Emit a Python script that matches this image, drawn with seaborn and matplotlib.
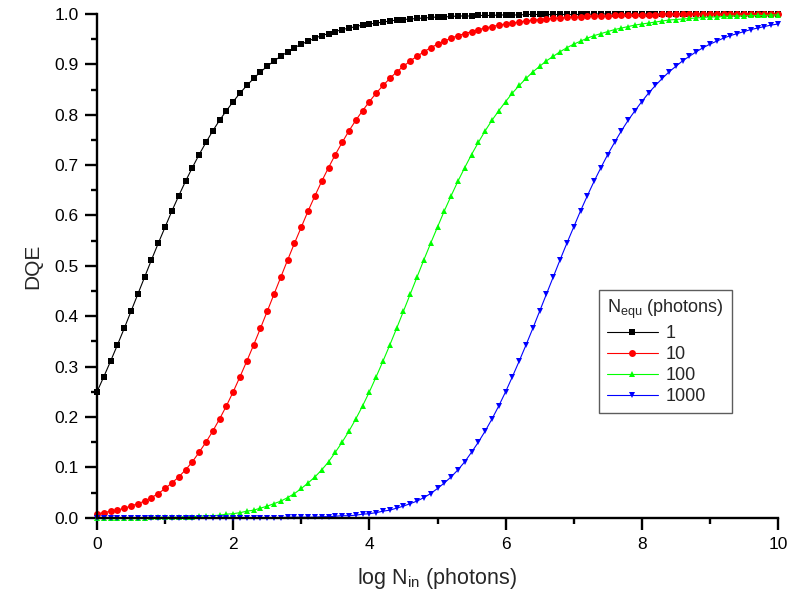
import matplotlib
matplotlib.use("Agg")
import matplotlib.pyplot as plt
import seaborn as sns
import numpy as np
import pandas as pd
from matplotlib.ticker import MultipleLocator, FormatStrFormatter

# x positions: log N_in from 0 to 10, step 0.1
log_n_in = [round(0.1 * i, 1) for i in range(101)]

dqe_1 = [
    0.250, 0.280, 0.311, 0.343, 0.376, 0.410, 0.444, 0.478, 0.512, 0.545,
    0.577, 0.609, 0.639, 0.668, 0.695, 0.721, 0.745, 0.768, 0.789, 0.808,
    0.826, 0.843, 0.858, 0.872, 0.885, 0.896, 0.907, 0.916, 0.925, 0.933,
    0.940, 0.946, 0.952, 0.957, 0.961, 0.965, 0.969, 0.972, 0.975, 0.978,
    0.980, 0.982, 0.984, 0.986, 0.988, 0.989, 0.990, 0.991, 0.992, 0.993,
    0.994, 0.994, 0.995, 0.996, 0.996, 0.996, 0.997, 0.997, 0.997, 0.998,
    0.998, 0.998, 0.998, 0.999, 0.999, 0.999, 0.999, 0.999, 0.999, 0.999,
    0.999, 0.999, 0.999, 1.000, 1.000, 1.000, 1.000, 1.000, 1.000, 1.000,
    1.000, 1.000, 1.000, 1.000, 1.000, 1.000, 1.000, 1.000, 1.000, 1.000,
    1.000, 1.000, 1.000, 1.000, 1.000, 1.000, 1.000, 1.000, 1.000, 1.000,
    1.000,
]

dqe_10 = [
    0.008, 0.010, 0.013, 0.015, 0.019, 0.023, 0.028, 0.033, 0.040, 0.048,
    0.058, 0.069, 0.081, 0.095, 0.111, 0.130, 0.150, 0.172, 0.196, 0.222,
    0.250, 0.280, 0.311, 0.343, 0.376, 0.410, 0.444, 0.478, 0.512, 0.545,
    0.577, 0.609, 0.639, 0.668, 0.695, 0.721, 0.745, 0.768, 0.789, 0.808,
    0.826, 0.843, 0.858, 0.872, 0.885, 0.896, 0.907, 0.916, 0.925, 0.933,
    0.940, 0.946, 0.952, 0.957, 0.961, 0.965, 0.969, 0.972, 0.975, 0.978,
    0.980, 0.982, 0.984, 0.986, 0.988, 0.989, 0.990, 0.991, 0.992, 0.993,
    0.994, 0.994, 0.995, 0.996, 0.996, 0.996, 0.997, 0.997, 0.997, 0.998,
    0.998, 0.998, 0.998, 0.999, 0.999, 0.999, 0.999, 0.999, 0.999, 0.999,
    0.999, 0.999, 0.999, 1.000, 1.000, 1.000, 1.000, 1.000, 1.000, 1.000,
    1.000,
]

dqe_100 = [
    0.000, 0.000, 0.000, 0.000, 0.000, 0.000, 0.000, 0.000, 0.001, 0.001,
    0.001, 0.001, 0.001, 0.002, 0.002, 0.003, 0.004, 0.004, 0.005, 0.007,
    0.008, 0.010, 0.013, 0.015, 0.019, 0.023, 0.028, 0.033, 0.040, 0.048,
    0.058, 0.069, 0.081, 0.095, 0.111, 0.130, 0.150, 0.172, 0.196, 0.222,
    0.250, 0.280, 0.311, 0.343, 0.376, 0.410, 0.444, 0.478, 0.512, 0.545,
    0.577, 0.609, 0.639, 0.668, 0.695, 0.721, 0.745, 0.768, 0.789, 0.808,
    0.826, 0.843, 0.858, 0.872, 0.885, 0.896, 0.907, 0.916, 0.925, 0.933,
    0.940, 0.946, 0.952, 0.957, 0.961, 0.965, 0.969, 0.972, 0.975, 0.978,
    0.980, 0.982, 0.984, 0.986, 0.988, 0.989, 0.990, 0.991, 0.992, 0.993,
    0.994, 0.994, 0.995, 0.996, 0.996, 0.996, 0.997, 0.997, 0.997, 0.998,
    0.998,
]

dqe_1000 = [
    0.000, 0.000, 0.000, 0.000, 0.000, 0.000, 0.000, 0.000, 0.000, 0.000,
    0.000, 0.000, 0.000, 0.000, 0.000, 0.000, 0.000, 0.000, 0.000, 0.000,
    0.000, 0.000, 0.000, 0.000, 0.000, 0.000, 0.000, 0.000, 0.001, 0.001,
    0.001, 0.001, 0.001, 0.002, 0.002, 0.003, 0.004, 0.004, 0.005, 0.007,
    0.008, 0.010, 0.013, 0.015, 0.019, 0.023, 0.028, 0.033, 0.040, 0.048,
    0.058, 0.069, 0.081, 0.095, 0.111, 0.130, 0.150, 0.172, 0.196, 0.222,
    0.250, 0.280, 0.311, 0.343, 0.376, 0.410, 0.444, 0.478, 0.512, 0.545,
    0.577, 0.609, 0.639, 0.668, 0.695, 0.721, 0.745, 0.768, 0.789, 0.808,
    0.826, 0.843, 0.858, 0.872, 0.885, 0.896, 0.907, 0.916, 0.925, 0.933,
    0.940, 0.946, 0.952, 0.957, 0.961, 0.965, 0.969, 0.972, 0.975, 0.978,
    0.980,
]

series_labels = ["1", "10", "100", "1000"]
series_values = [dqe_1, dqe_10, dqe_100, dqe_1000]
x_ticks = [0, 2, 4, 6, 8, 10]
y_ticks = [0.0, 0.1, 0.2, 0.3, 0.4, 0.5, 0.6, 0.7, 0.8, 0.9, 1.0]

colors = ["#000000", "#FF0000", "#00FF00", "#0000FF"]
markers = ["s", "o", "^", "v"]
msizes = [4.5, 5.0, 4.0, 5.0]

sns.set_style("ticks")
plt.rcParams["font.family"] = ["Liberation Sans", "DejaVu Sans"]
plt.rcParams["mathtext.fontset"] = "custom"
plt.rcParams["mathtext.rm"] = "Liberation Sans"
plt.rcParams["mathtext.it"] = "Liberation Sans"

fig = plt.figure(figsize=(7.9, 6.07), dpi=100)
ax = fig.add_axes([0.1228, 0.1471, 0.862, 0.8299])

for lab, vals, c, m, ms in zip(series_labels, series_values, colors, markers, msizes):
    df = pd.DataFrame({"x": log_n_in, "y": vals})
    sns.lineplot(data=df, x="x", y="y", ax=ax, color=c, marker=m,
                 markersize=ms, markeredgewidth=0, linewidth=0.8,
                 label=lab, clip_on=False)

ax.set_xlim(0, 10)
ax.set_ylim(0, 1.0)
ax.set_xticks(x_ticks)
ax.set_yticks(y_ticks)
ax.xaxis.set_minor_locator(MultipleLocator(1))
ax.yaxis.set_minor_locator(MultipleLocator(0.05))
ax.yaxis.set_major_formatter(FormatStrFormatter("%.1f"))
ax.tick_params(axis="both", which="major", length=8.5, width=1.7,
               labelsize=12.5, color="black", labelcolor="black", direction="out")
ax.tick_params(axis="x", which="major", pad=5.5)
ax.tick_params(axis="y", which="major", pad=4.5)
ax.tick_params(axis="both", which="minor", length=4.5, width=1.7, color="black",
               direction="out")
sns.despine(ax=ax)
for s in ["left", "bottom"]:
    ax.spines[s].set_linewidth(1.7)
    ax.spines[s].set_color("black")

ax.set_xlabel(r"log N$_{\mathregular{in}}$ (photons)", fontsize=15.5, labelpad=10)
ax.set_ylabel("DQE", fontsize=15, labelpad=9)

leg = ax.legend(title=r"N$_{\mathregular{equ}}$ (photons)", loc="upper left",
                bbox_to_anchor=(0.737, 0.452), borderaxespad=0,
                fontsize=13, title_fontsize=13, handlelength=2.8,
                labelspacing=0.22, handletextpad=0.45, borderpad=0.45,
                frameon=True, fancybox=False, alignment="left")
leg.get_frame().set_edgecolor("#333333")
leg.get_frame().set_linewidth(1.0)

fig.savefig("out.png", dpi=100)
